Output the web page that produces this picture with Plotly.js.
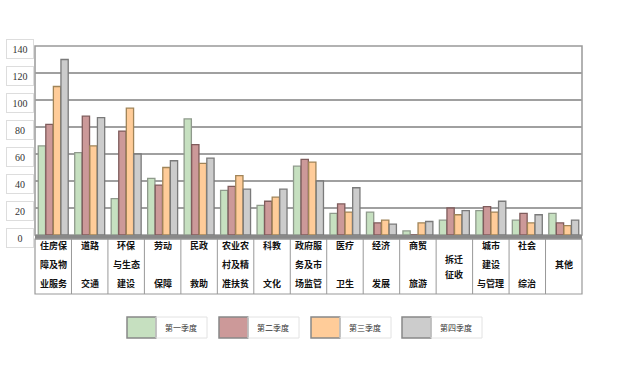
<!DOCTYPE html>
<html><head><meta charset="utf-8">
<script src="https://cdn.plot.ly/plotly-3.0.1.min.js"></script>
<style>html,body{margin:0;padding:0;background:#fff}#chart{width:619px;height:383px}</style>
</head><body><div id="chart"></div>
<script>
// ---- data ----
const categories = ["住房保障及物业服务","道路交通","环保与生态建设","劳动保障","民政救助","农业农村及精准扶贫","科教文化","政府服务及市场监管","医疗卫生","经济发展","商贸旅游","拆迁征收","城市建设与管理","社会综治","其他"];
const categoryLines = [["住房保","障及物","业服务"],["道路","","交通"],["环保","与生态","建设"],["劳动","","保障"],["民政","","救助"],["农业农","村及精","准扶贫"],["科教","","文化"],["政府服","务及市","场监管"],["医疗","","卫生"],["经济","","发展"],["商贸","","旅游"],["拆迁","征收"],["城市","建设","与管理"],["社会","","综治"],["其他"]];
const seriesNames = ["第一季度","第二季度","第三季度","第四季度"];
const q1 = [66,61,27,42,86,33,22,51,16,17,3,11,18,11,16];
const q2 = [82,88,77,37,67,36,25,56,23,9,0,20,21,16,9];
const q3 = [110,66,94,50,53,44,28,54,17,11,9,15,17,9,7];
const q4 = [130,87,60,55,57,34,34,40,35,8,10,18,25,15,11];
const yTicks = [0,20,40,60,80,100,120,140];

// ---- styles ----
const fills = ["#c6e0c0","#cc9999","#ffcc99","#cccccc"];
const edges = ["#8f9a8c","#7f5c5c","#a08458","#7a7a7a"];
const series = [q1,q2,q3,q4];

const L = 35, R = 582, T = 46, B = 235, W = 619, H = 383;
const px = x => (x - L) / (R - L);
const py = y => (B - y) / (B - T);

const traces = series.map((vals, k) => ({
  type: "bar", name: seriesNames[k], x: categories.map((c,i)=>i), y: vals,
  marker: {color: fills[k], line: {color: edges[k], width: 1.3}},
  showlegend: false
}));

const shapes = [];
const annotations = [];
// baseline band
shapes.push({type:"rect", xref:"paper", yref:"paper", x0:0, x1:1, y0:py(235), y1:py(239.5), fillcolor:"#888", line:{width:0}, layer:"above"});
// plot frame
shapes.push({type:"rect", xref:"paper", yref:"paper", x0:0, x1:1, y0:0, y1:1, line:{color:"#999", width:1.5}, layer:"below"});
// label table
shapes.push({type:"rect", xref:"paper", yref:"paper", x0:0, x1:1, y0:py(239), y1:py(294), line:{color:"#999", width:1.2}});
for (let i = 1; i < categories.length; i++) {
  shapes.push({type:"line", xref:"x", yref:"paper", x0:i-0.5, x1:i-0.5, y0:py(239), y1:py(294), line:{color:"#999", width:1}});
}
// category label lines
const lineY = {3:[245,264,283], 2:[259,274], 1:[264]};
categoryLines.forEach((lines, i) => {
  lines.forEach((t, j) => {
    if (!t) return;
    annotations.push({xref:"x", yref:"paper", x:i, y:py(lineY[lines.length][j]), text:"<b>"+t+"</b>", showarrow:false,
      xanchor:"center", yanchor:"middle", font:{family:"Noto Sans CJK SC", size:9, color:"#111"}});
  });
});
// y tick labels in boxes
yTicks.forEach(v => {
  annotations.push({xref:"paper", yref:"y", x:px(20), y:v, yshift:-3, text:String(v), showarrow:false,
    xanchor:"center", yanchor:"middle", width:24, height:16, bordercolor:"#ddd", borderwidth:1,
    font:{family:"Liberation Serif", size:10, color:"#333"}});
});
// legend
const legX = [127, 219, 311, 402];
seriesNames.forEach((n, k) => {
  const x0 = legX[k];
  shapes.push({type:"rect", xref:"paper", yref:"paper", x0:px(x0), x1:px(x0+29), y0:py(317), y1:py(338), fillcolor:fills[k], line:{color:"#888", width:1.5}});
  shapes.push({type:"rect", xref:"paper", yref:"paper", x0:px(x0+29), x1:px(x0+80), y0:py(317), y1:py(338), line:{color:"#e2e2e2", width:1}});
  annotations.push({xref:"paper", yref:"paper", x:px(x0+54), y:py(327.5), text:n, showarrow:false, xanchor:"center", yanchor:"middle",
    font:{family:"Noto Sans CJK SC", size:8, color:"#333"}});
});

const layout = {
  width: W, height: H, margin: {l:L, r:W-R, t:T, b:H-B, pad:0},
  paper_bgcolor: "#fff", plot_bgcolor: "#fff",
  barmode: "group", bargap: 0.17, bargroupgap: 0.04,
  xaxis: {range:[-0.5, categories.length-0.5], showticklabels:false, ticks:"", showgrid:false, zeroline:false, showline:false},
  yaxis: {range:[0,140], tickvals:yTicks, showticklabels:false, ticks:"", showgrid:true, gridcolor:"#a0a0a0", gridwidth:1.5, zeroline:false, showline:false},
  showlegend: false, shapes, annotations
};
Plotly.newPlot("chart", traces, layout, {displayModeBar:false, staticPlot:true});
</script></body></html>
